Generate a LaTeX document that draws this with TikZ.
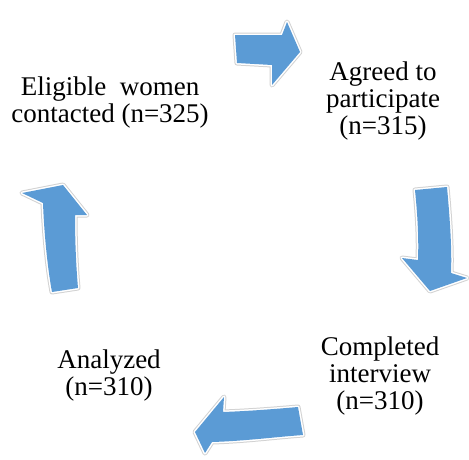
\documentclass[tikz,border=0pt]{standalone}
\usepackage{fontspec}
\setmainfont{Liberation Serif}
\usepackage{tikz}
\usetikzlibrary{positioning}
\definecolor{arrowblue}{RGB}{91,155,213}

\begin{document}
\begin{tikzpicture}[x=1pt,y=-1pt,
  every node/.style={align=center, inner sep=0pt, font=\fontsize{27}{27}\selectfont},
  turn/.style={fill=arrowblue,
    preaction={draw=gray!35, line width=5pt, line join=round},
    preaction={draw=white, line width=3pt, line join=round}}
]
\useasboundingbox (0,0) rectangle (469,459);
\node (eligible) at (110,103) {Eligible\ \ women\\contacted (n=325)};
\node (agreed) at (383,101) {Agreed to\\participate\\(n=315)};
\node (completed) at (380,376) {Completed\\interview\\(n=310)};
\node (analyzed) at (109,375) {Analyzed\\(n=310)};

\path[turn] (235,35) -- (282,35) -- (287,22) -- (300,52) -- (272,85)
  -- (272,65) -- (237,63) -- cycle;
\path[turn] (415,190) -- (447,187) .. controls (450,220) and (452,250) .. (451,273)
  -- (467,278) -- (430,291) -- (402,258) -- (418,260)
  .. controls (419,235) and (417,210) .. (415,190) -- cycle;
\path[turn] (224,397) -- (223,412) .. controls (250,411) and (275,409) .. (298,407)
  -- (303,435) .. controls (275,437) and (245,441) .. (212,442)
  -- (205,453) -- (195,432) -- cycle;
\path[turn] (22,193) -- (63,185) -- (87,215) -- (75,215)
  .. controls (75,240) and (76,265) .. (78,288) -- (52,292)
  .. controls (47,265) and (44,230) .. (43,203) -- cycle;
\end{tikzpicture}
\end{document}
